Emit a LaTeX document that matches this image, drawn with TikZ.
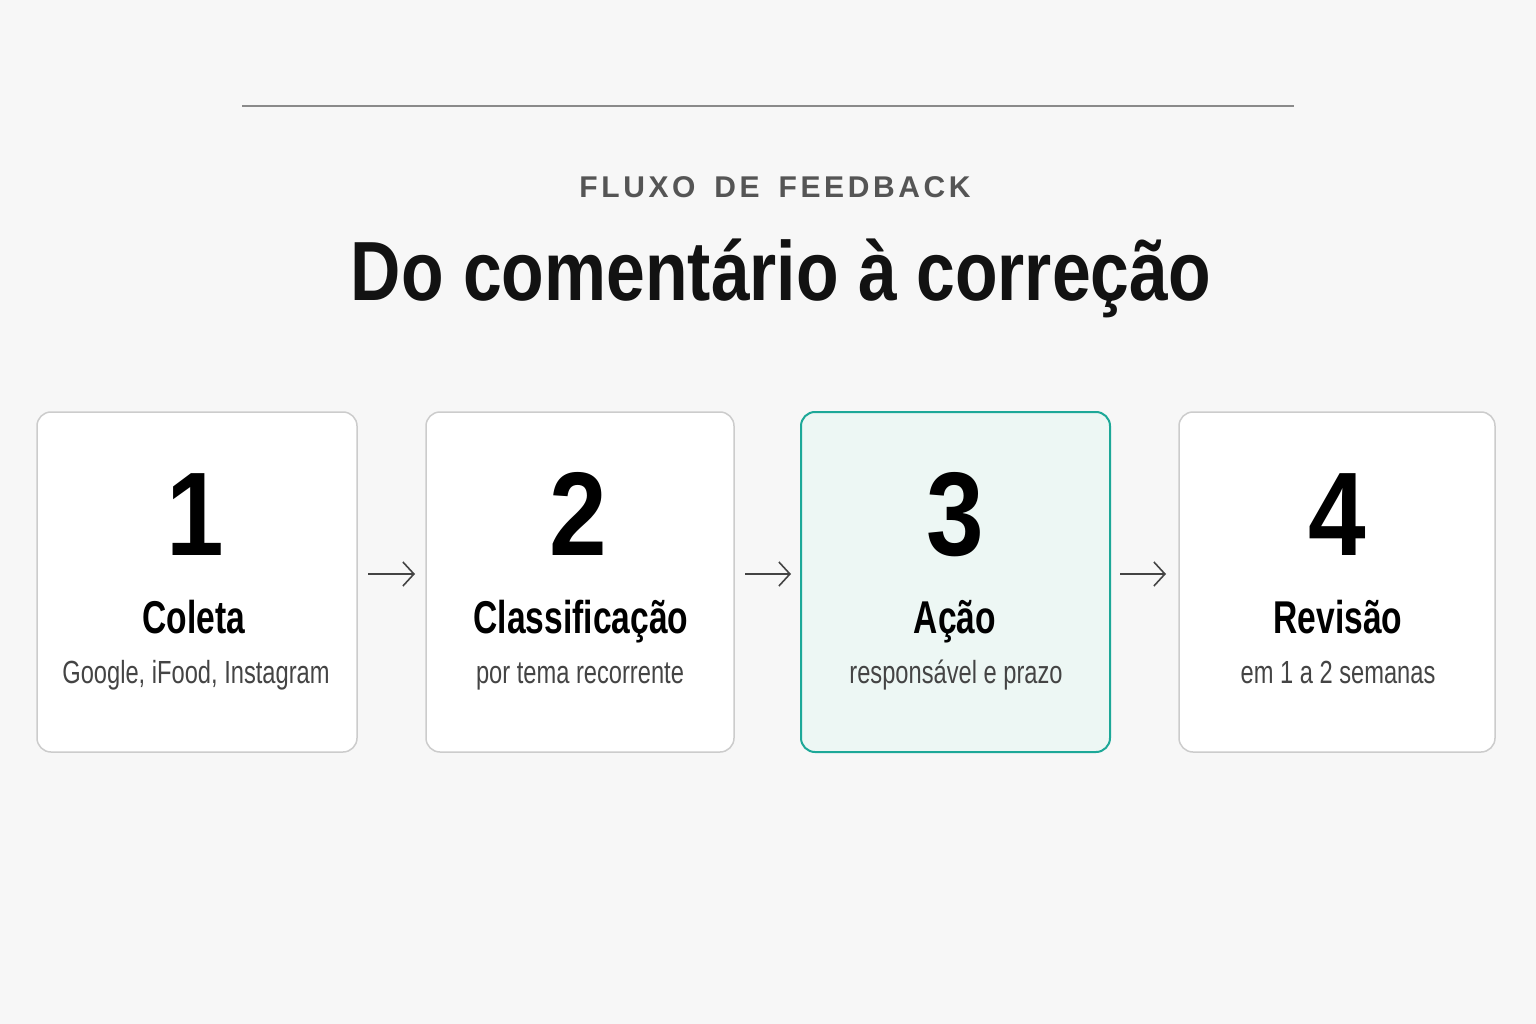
\documentclass[tikz,border=0pt]{standalone}
\usepackage{fontspec}
\setmainfont{Liberation Sans}
\newfontfamily\numf[FakeStretch=0.87]{Liberation Sans}
\newfontfamily\subf[FakeStretch=0.74]{Liberation Sans}
\newfontfamily\labf[FakeStretch=0.73]{Liberation Sans}
\newfontfamily\titlef[FakeStretch=0.83]{Liberation Sans}
\newfontfamily\spacedf[LetterSpace=12]{Liberation Sans}
\usetikzlibrary{arrows.meta}
\definecolor{bg}{HTML}{F7F7F7}
\definecolor{boxline}{HTML}{CCCCCC}
\definecolor{teal}{HTML}{1DA898}
\definecolor{mint}{HTML}{EDF7F4}
\definecolor{subtxt}{HTML}{444444}
\definecolor{kicker}{HTML}{555555}
\definecolor{rule}{HTML}{8A8A8A}
\definecolor{arrowc}{HTML}{444444}
\tikzset{
  card/.style={draw=boxline, line width=1.5pt, fill=white, rounded corners=14pt},
  activecard/.style={draw=teal, line width=2pt, fill=mint, rounded corners=14pt},
  numtxt/.style={font=\numf\bfseries\fontsize{119}{119}\selectfont, text=black, inner sep=0pt, anchor=base},
  labtxt/.style={font=\labf\bfseries\fontsize{46}{46}\selectfont, text=black, inner sep=0pt, anchor=base},
  subtxtst/.style={font=\subf\fontsize{32}{32}\selectfont, text=subtxt, inner sep=0pt, anchor=base},
  flow/.style={draw=arrowc, line width=1.6pt, -{Straight Barb[length=11pt,width=24pt,line width=1.6pt]}}
}
\begin{document}
\begin{tikzpicture}[x=1pt,y=-1pt]
\useasboundingbox (0,0) rectangle (1536,1024);
\fill[bg] (0,0) rectangle (1536,1024);
\draw[rule, line width=1.3pt] (242,106) -- (1294,106);
\node[font=\spacedf\bfseries\fontsize{30}{30}\selectfont, text=kicker, inner sep=0pt, anchor=base] (kick) at (775,198) {FLUXO\hspace{7pt} DE\hspace{7pt} FEEDBACK};
\node[font=\titlef\bfseries\fontsize{84}{84}\selectfont, text=black!93, inner sep=0pt, anchor=base] (title) at (781,301) {Do comentário à correção};
% cards
\node[card, minimum width=320pt, minimum height=340pt, inner sep=0pt] (c1) at (197,582) {};
\node[card, minimum width=308pt, minimum height=340pt, inner sep=0pt] (c2) at (580,582) {};
\node[activecard, minimum width=309pt, minimum height=340pt, inner sep=0pt] (c3) at (955.5,582) {};
\node[card, minimum width=316pt, minimum height=340pt, inner sep=0pt] (c4) at (1337,582) {};
% numbers
\node[numtxt] (n1) at (195,555) {1};
\node[numtxt] (n2) at (578,555) {2};
\node[numtxt] (n3) at (955,555) {3};
\node[numtxt] (n4) at (1337,555) {4};
% labels
\node[labtxt] (l1) at (194,633) {Coleta};
\node[labtxt] (l2) at (581,633) {Classificação};
\node[labtxt] (l3) at (955,633) {Ação};
\node[labtxt] (l4) at (1338,633) {Revisão};
% subtitles
\node[subtxtst] (s1) at (196,683) {Google, iFood, Instagram};
\node[subtxtst] (s2) at (580,683) {por tema recorrente};
\node[subtxtst] (s3) at (956,683) {responsável e prazo};
\node[subtxtst] (s4) at (1338,683) {em 1 a 2 semanas};
% arrows
\coordinate (a1s) at (368,574); \coordinate (a1e) at (415,574);
\coordinate (a2s) at (745,574); \coordinate (a2e) at (791,574);
\coordinate (a3s) at (1120,574); \coordinate (a3e) at (1166,574);
\draw[flow] (a1s) -- (a1e);
\draw[flow] (a2s) -- (a2e);
\draw[flow] (a3s) -- (a3e);
\end{tikzpicture}
\end{document}
